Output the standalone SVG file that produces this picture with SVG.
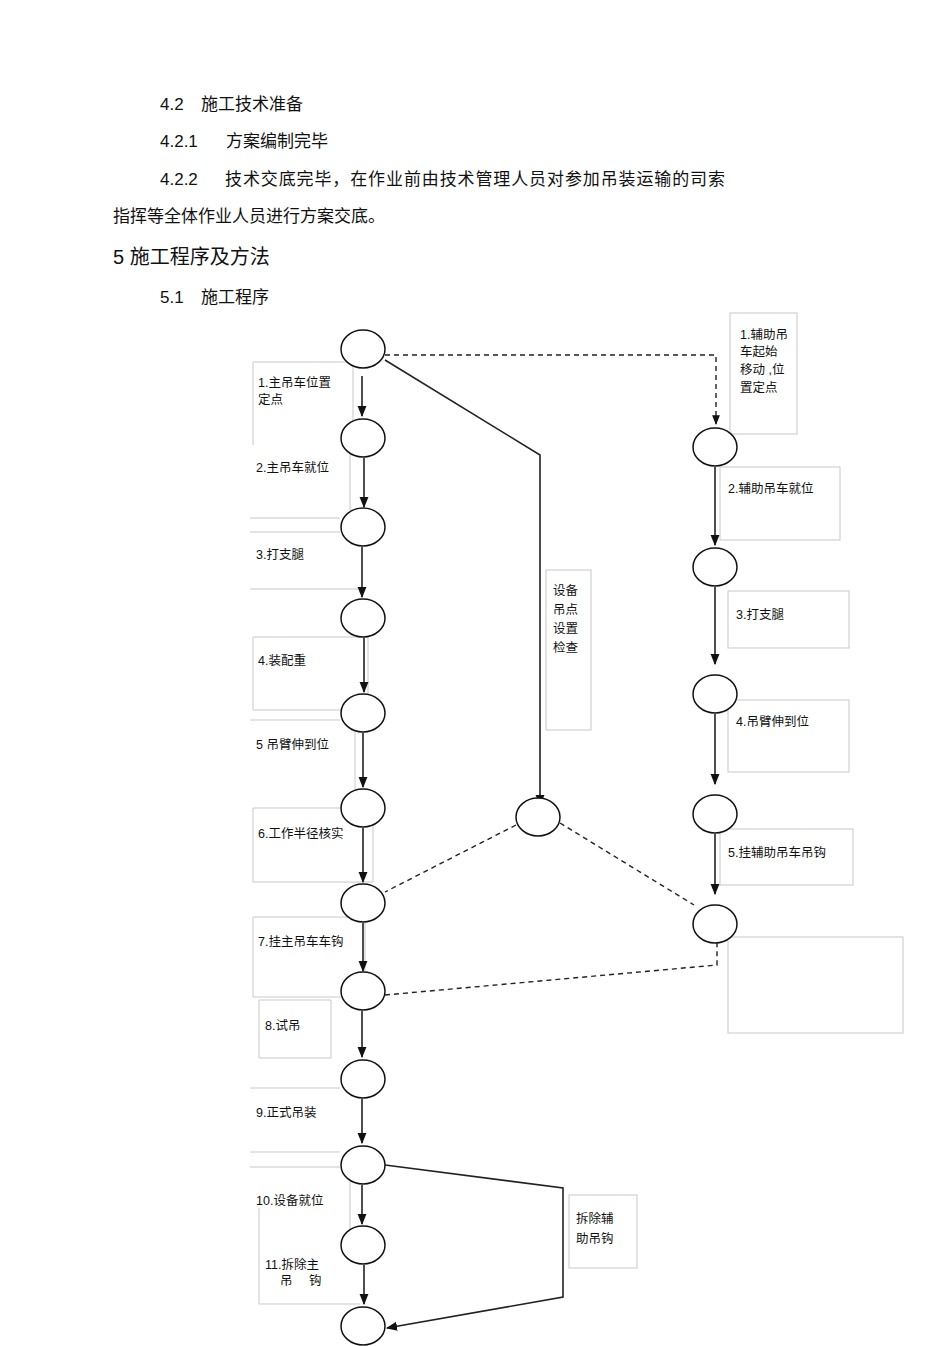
<svg xmlns="http://www.w3.org/2000/svg" width="950" height="1346" viewBox="0 0 950 1346">
<style>
.t{font-family:"Liberation Sans","Noto Sans CJK SC",sans-serif;font-size:17px;fill:#111}
.s{font-family:"Liberation Sans","Noto Sans CJK SC",sans-serif;font-size:12.5px;fill:#111}
.n{fill:#fff;stroke:#111;stroke-width:1.5}
.b{fill:none;stroke:#c8c8c8;stroke-width:1}
.c{fill:none;stroke:#222;stroke-width:1.6}
.d{fill:none;stroke:#222;stroke-width:1.4;stroke-dasharray:5,4}
</style>
<defs><marker id="a" viewBox="0 0 10 10" refX="9" refY="5" markerWidth="7" markerHeight="7" orient="auto"><path d="M0,1 L10,5 L0,9 z" fill="#111"/></marker></defs>
<rect width="950" height="1346" fill="#fff"/>
<text class="t" x="160" y="110">4.2</text><text class="t" x="201" y="110">施工技术准备</text>
<text class="t" x="160" y="147">4.2.1</text><text class="t" x="226" y="147">方案编制完毕</text>
<text class="t" x="160" y="185">4.2.2</text><text class="t" x="225" y="185" textLength="500" lengthAdjust="spacing">技术交底完毕，在作业前由技术管理人员对参加吊装运输的司索</text>
<text class="t" x="113" y="222" textLength="272" lengthAdjust="spacing">指挥等全体作业人员进行方案交底。</text>
<text class="t" x="113" y="264" style="font-size:20px">5 施工程序及方法</text>
<text class="t" x="160" y="303">5.1</text><text class="t" x="201" y="303">施工程序</text>
<g id="labels">
<path class="b" d="M253,445 V362 H353 V445"/><text class="s" x="258" y="387">1.主吊车位置</text><text class="s" x="258" y="404">定点</text>
<path class="b" d="M350,440 V517 M250,518 H340 M250,532 H340"/><text class="s" x="256" y="472">2.主吊车就位</text>
<path class="b" d="M250,589 H360"/><text class="s" x="256" y="559">3.打支腿</text>
<path class="b" d="M253,637 H368 V710 H253 Z"/><text class="s" x="258" y="665">4.装配重</text>
<path class="b" d="M250,720 H340 M355,720 V790"/><text class="s" x="256" y="749">5 吊臂伸到位</text>
<path class="b" d="M253,808 H373 V882 H253 Z"/><text class="s" x="258" y="838">6.工作半径核实</text>
<path class="b" d="M253,917 H365 V997 H253 Z"/><text class="s" x="258" y="946">7.挂主吊车车钩</text>
<path class="b" d="M259,1000 H331 V1058 H259 Z"/><text class="s" x="265" y="1030">8.试吊</text>
<path class="b" d="M250,1088 H340"/><text class="s" x="256" y="1117">9.正式吊装</text>
<path class="b" d="M250,1152 H340 M250,1167 H340 M350,1167 V1240"/><text class="s" x="256" y="1205">10.设备就位</text>
<path class="b" d="M259,1208 V1304 H360"/><text class="s" x="265" y="1269">11.拆除主</text><text class="s" x="280" y="1285">吊</text><text class="s" x="309" y="1285">钩</text>
<rect class="b" x="546" y="570" width="45" height="160"/><text class="s" x="553" y="595">设备</text><text class="s" x="553" y="614">吊点</text><text class="s" x="553" y="633">设置</text><text class="s" x="553" y="652">检查</text>
<rect class="b" x="730" y="313" width="67" height="121"/><text class="s" x="740" y="339">1.辅助吊</text><text class="s" x="740" y="356">车起始</text><text class="s" x="740" y="374">移动 ,位</text><text class="s" x="740" y="392">置定点</text>
<rect class="b" x="720" y="467" width="120" height="73"/><text class="s" x="728" y="493">2.辅助吊车就位</text>
<rect class="b" x="728" y="591" width="121" height="57"/><text class="s" x="736" y="619">3.打支腿</text>
<rect class="b" x="728" y="700" width="121" height="72"/><text class="s" x="736" y="726">4.吊臂伸到位</text>
<rect class="b" x="720" y="829" width="133" height="56"/><text class="s" x="728" y="857">5.挂辅助吊车吊钩</text>
<rect class="b" x="728" y="937" width="175" height="96"/>
<rect class="b" x="569" y="1195" width="68" height="73"/><text class="s" x="576" y="1223">拆除辅</text><text class="s" x="576" y="1243">助吊钩</text>
</g>
<g id="connectors">
<path class="c" marker-end="url(#a)" d="M362,376 V416"/>
<path class="c" marker-end="url(#a)" d="M364,458 V507"/>
<path class="c" marker-end="url(#a)" d="M362,547 V597"/>
<path class="c" marker-end="url(#a)" d="M364,638 V692"/>
<path class="c" marker-end="url(#a)" d="M363,733 V787"/>
<path class="c" marker-end="url(#a)" d="M363,828 V882"/>
<path class="c" marker-end="url(#a)" d="M363,923 V971"/>
<path class="c" marker-end="url(#a)" d="M362,1011 V1057"/>
<path class="c" marker-end="url(#a)" d="M362,1099 V1143"/>
<path class="c" marker-end="url(#a)" d="M362,1185 V1224"/>
<path class="c" marker-end="url(#a)" d="M364,1265 V1304"/>
<path class="c" marker-end="url(#a)" d="M385,360 L540,455 V805"/>
<path class="d" marker-end="url(#a)" d="M385,355 H716 V424"/>
<path class="c" marker-end="url(#a)" d="M715,467 V545"/>
<path class="c" marker-end="url(#a)" d="M715,587 V664"/>
<path class="c" marker-end="url(#a)" d="M715,714 V784"/>
<path class="c" marker-end="url(#a)" d="M715,834 V894"/>
<path class="d" d="M516,825 L385,892 M560,823 L694,905 M385,995 L717,965 V943"/>
<path class="c" marker-end="url(#a)" d="M385,1165 L563,1188 V1297 L387,1328"/>
</g>
<g id="nodes">
<ellipse class="n" cx="363" cy="349" rx="22" ry="19"/>
<ellipse class="n" cx="363" cy="438" rx="22" ry="19"/>
<ellipse class="n" cx="363" cy="527" rx="22" ry="19"/>
<ellipse class="n" cx="363" cy="618" rx="22" ry="19"/>
<ellipse class="n" cx="363" cy="713" rx="22" ry="19"/>
<ellipse class="n" cx="363" cy="808" rx="22" ry="19"/>
<ellipse class="n" cx="363" cy="903" rx="22" ry="19"/>
<ellipse class="n" cx="363" cy="991" rx="22" ry="19"/>
<ellipse class="n" cx="363" cy="1079" rx="22" ry="19"/>
<ellipse class="n" cx="363" cy="1165" rx="22" ry="19"/>
<ellipse class="n" cx="363" cy="1245" rx="22" ry="19"/>
<ellipse class="n" cx="363" cy="1326" rx="22" ry="19"/>
<ellipse class="n" cx="538" cy="817" rx="22" ry="19"/>
<ellipse class="n" cx="715" cy="447" rx="22" ry="19"/>
<ellipse class="n" cx="715" cy="567" rx="22" ry="19"/>
<ellipse class="n" cx="715" cy="694" rx="22" ry="19"/>
<ellipse class="n" cx="715" cy="814" rx="22" ry="19"/>
<ellipse class="n" cx="715" cy="924" rx="22" ry="19"/>
</g>
</svg>
